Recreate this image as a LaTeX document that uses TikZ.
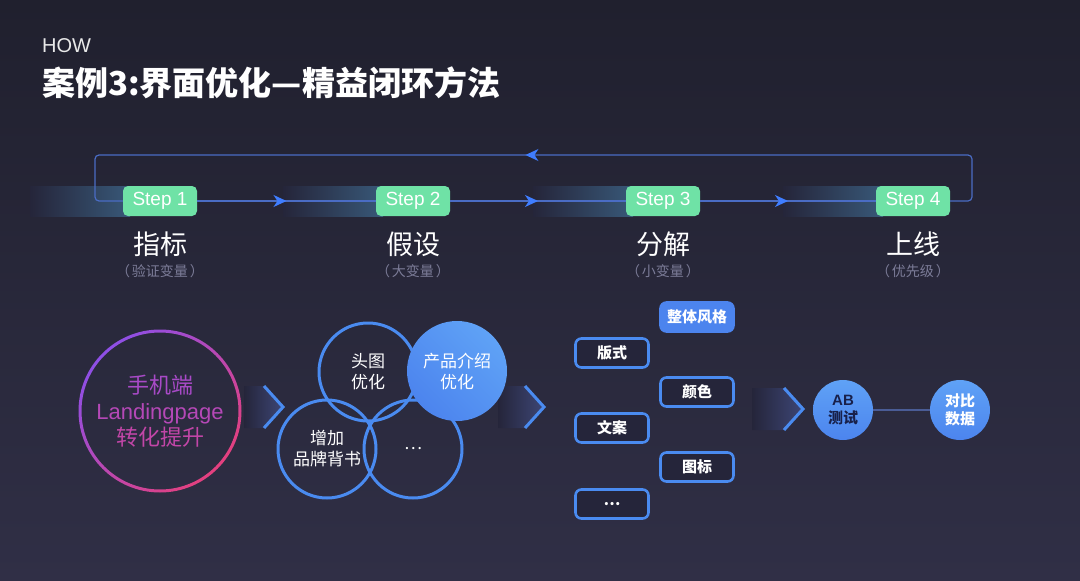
\documentclass[tikz,border=0pt]{standalone}
\usepackage{fontspec}
\setmainfont{Noto Sans CJK SC}
\newfontfamily\latinfont{Liberation Sans}
\usetikzlibrary{arrows.meta,decorations.markings}
\definecolor{bgtop}{HTML}{20202E}
\definecolor{bgbot}{HTML}{302F46}
\definecolor{bgmid}{HTML}{25253A}
\definecolor{loopc}{HTML}{4A6CC4}
\definecolor{arrc}{HTML}{3F7DFF}
\definecolor{stepc}{HTML}{6FE2A6}
\definecolor{glowc}{HTML}{385878}
\definecolor{subc}{HTML}{7C7C98}
\definecolor{bluec}{HTML}{4A8BF0}
\definecolor{bluefill}{HTML}{4C84EE}
\definecolor{bluelight}{HTML}{5FA2F6}
\definecolor{chevglow}{HTML}{3D4676}
\definecolor{purp}{HTML}{8E4FE6}
\definecolor{pinkc}{HTML}{E4407E}
\definecolor{navytext}{HTML}{18204A}
\definecolor{linkc}{HTML}{4A5C96}
\tikzset{
  stepbox/.style={rectangle, rounded corners=5pt, fill=stepc, text=white,
    minimum width=74pt, minimum height=30pt, inner sep=0pt,
    font=\latinfont\fontsize{19}{19}\selectfont},
  looppath/.style={draw=loopc, line width=1.2pt},
  midarrow/.style={postaction={decorate, decoration={markings,
    mark=at position #1 with {\arrow{Stealth[length=13pt,width=12pt,inset=4pt,color=arrc]}}}}},
  steplabel/.style={text=white, font=\fontsize{27}{27}\selectfont, inner sep=0pt},
  subl/.style={text=subc, font=\fontsize{14}{14}\selectfont, inner sep=0pt},
  venn/.style={circle, draw=bluec, line width=3pt, minimum size=98pt, inner sep=0pt,
    text=white, align=center, font=\fontsize{17}{21}\selectfont},
  optbox/.style={rectangle, rounded corners=6pt, draw=bluec, line width=2.6pt,
    minimum width=73pt, minimum height=29pt, inner sep=0pt, fill=bgmid,
    text=white, font=\bfseries\fontsize{15}{15}\selectfont},
  chev/.style={draw=bluec, line width=3pt, line join=miter},
  chevglowstyle/.style={left color=bgmid, right color=chevglow},
  dot/.style={circle, minimum size=60pt, inner sep=0pt, align=center,
    font=\bfseries\fontsize{15}{18}\selectfont}
}
\begin{document}
\begin{tikzpicture}[x=1pt,y=-1pt]
\useasboundingbox (0,0) rectangle (1080,581);
\shade[top color=bgtop, bottom color=bgbot] (0,0) rectangle (1080,581);

% title
\node[anchor=west, inner sep=0pt, text=white!82!gray, font=\latinfont\fontsize{20}{20}\selectfont] (how) at (42,46) {HOW};
\node[anchor=west, inner sep=0pt, text=white, font=\bfseries\fontsize{33}{33}\selectfont] (title) at (42,83) {案例3:界面优化—精益闭环方法};

% glows behind steps
\foreach \x in {160,413,663,913}{
  \shade[left color=bgmid, right color=glowc] (\x-130,186) rectangle (\x-30,216);
}

% steps
\node[stepbox] (s1) at (160,201) {Step 1};
\node[stepbox] (s2) at (413,201) {Step 2};
\node[stepbox] (s3) at (663,201) {Step 3};
\node[stepbox] (s4) at (913,201) {Step 4};

\coordinate (c1) at (972,201);
\coordinate (c2) at (972,155);
\coordinate (c3) at (95,155);
\coordinate (c4) at (95,201);

\path[looppath, midarrow=0.5] (s1.east) -- (s2.west);
\path[looppath, midarrow=0.5] (s2.east) -- (s3.west);
\path[looppath, midarrow=0.5] (s3.east) -- (s4.west);
\path[looppath, rounded corners=4pt, midarrow=0.505] (s4.east) -- (c1) -- (c2) -- (c3) -- (c4) -- (s1.west);

% step labels
\node[steplabel] (l1) at (160,244) {指标};
\node[steplabel] (l2) at (413,244) {假设};
\node[steplabel] (l3) at (663,244) {分解};
\node[steplabel] (l4) at (913,244) {上线};
\node[subl] (d1) at (160,271) {（\hspace{2pt}验证变量\hspace{2pt}）};
\node[subl] (d2) at (413,271) {（\hspace{2pt}大变量\hspace{2pt}）};
\node[subl] (d3) at (663,271) {（\hspace{2pt}小变量\hspace{2pt}）};
\node[subl] (d4) at (913,271) {（\hspace{2pt}优先级\hspace{2pt}）};

% chevrons
\shade[chevglowstyle] (244,386) -- (264,386) -- (283,407) -- (264,428) -- (244,428) -- cycle;
\draw[chev] (264,386) -- (283,407) -- (264,428);
\shade[chevglowstyle] (498,386) -- (525,386) -- (544,407) -- (525,428) -- (498,428) -- cycle;
\draw[chev] (525,386) -- (544,407) -- (525,428);
\shade[chevglowstyle] (752,388) -- (784,388) -- (803,409) -- (784,430) -- (752,430) -- cycle;
\draw[chev] (784,388) -- (803,409) -- (784,430);

% goal circle
\shade[even odd rule, left color=purp, right color=pinkc, shading angle=45]
  (160,411) circle[radius=81.5] (160,411) circle[radius=78.5];
\node[align=center, inner sep=0pt, font=\fontsize{22}{26}\selectfont] (goal) at (160,411)
  {\textcolor{purp!70!pinkc}{手机端}\\\textcolor{purp!55!pinkc}{\latinfont Landingpage}\\\textcolor{purp!40!pinkc}{转化提升}};

% venn circles
\node[venn] (v1) at (368,372) {头图\\优化};
\node[venn] (v3) at (327,449) {增加\\品牌背书};
\node[venn] (v4) at (413,449) {…};
\node[venn, draw=none, top color=bluelight, bottom color=bluefill, shading angle=-45, minimum size=100pt] (v2) at (457,371) {产品介绍\\优化};

% option boxes
\node[optbox, fill=bluefill, draw=bluefill] (o1) at (697,317) {整体风格};
\node[optbox] (o2) at (612,353) {版式};
\node[optbox] (o3) at (697,392) {颜色};
\node[optbox] (o4) at (612,428) {文案};
\node[optbox] (o5) at (697,467) {图标};
\node[optbox] (o6) at (612,504) {…};

% AB test
\node[dot, top color=bluelight, bottom color=bluefill, text=navytext] (ab) at (843,410) {\latinfont AB\\测试};
\node[dot, top color=bluelight, bottom color=bluefill, text=white] (cmp) at (960,410) {对比\\数据};
\draw[linkc, line width=1.5pt] (ab) -- (cmp);
\end{tikzpicture}
\end{document}
